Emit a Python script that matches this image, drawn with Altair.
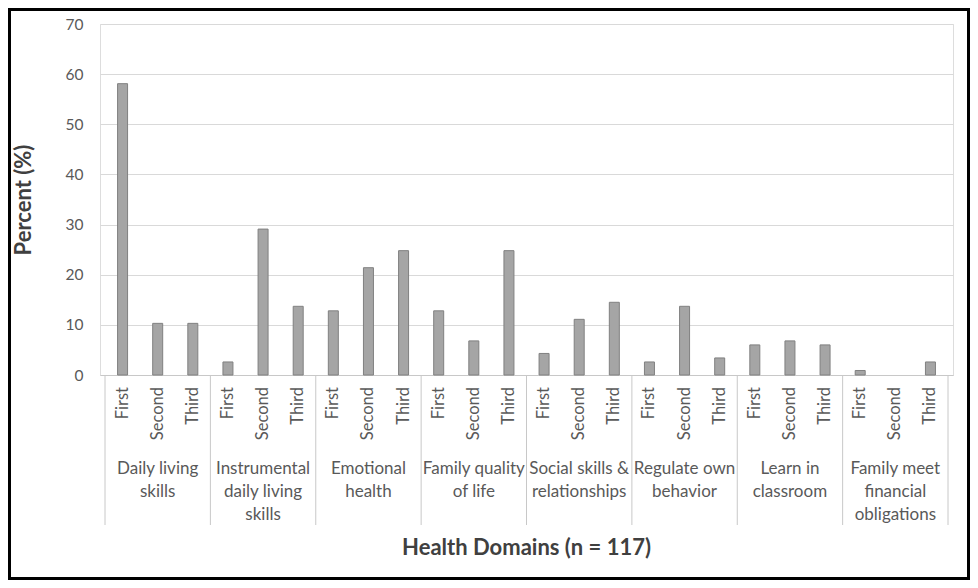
import altair as alt
import pandas as pd

domains = [
    "Daily living\nskills",
    "Instrumental\ndaily living\nskills",
    "Emotional\nhealth",
    "Family quality\nof life",
    "Social skills &\nrelationships",
    "Regulate own\nbehavior",
    "Learn in\nclassroom",
    "Family meet\nfinancial\nobligations",
]
ranks = ["First", "Second", "Third"]
first = [58.1, 2.6, 12.8, 12.8, 4.3, 2.6, 6.0, 0.9]
second = [10.3, 29.1, 21.4, 6.8, 11.1, 13.7, 6.8, 0.0]
third = [10.3, 13.7, 24.8, 24.8, 14.5, 3.4, 6.0, 2.6]
y_ticks = [0, 10, 20, 30, 40, 50, 60, 70]

W, H = 853, 351
FONT = "Lato"
TXT = "#595959"

rows = []
for g, d in enumerate(domains):
    for r, (rank, series) in enumerate(zip(ranks, [first, second, third])):
        rows.append({"domain": d, "rank": rank, "value": series[g], "pos": g * 3 + r + 0.5})
df = pd.DataFrame(rows)
groups = pd.DataFrame({"label": domains, "center": [g * 3 + 1.5 for g in range(len(domains))]})
seps = pd.DataFrame({"sep": [g * 3 for g in range(len(domains) + 1)]})

xs = alt.Scale(domain=[0, 24], nice=False, zero=False)
ys = alt.Scale(domain=[0, 70], nice=False)

bars = alt.Chart(df).mark_bar(width=10, fill="#a5a5a5", stroke="#808080", strokeWidth=1).encode(
    x=alt.X("pos:Q", scale=xs, axis=alt.Axis(labels=False, ticks=False, grid=False, domainColor="#c8c8c8", title=None)),
    y=alt.Y("value:Q", scale=ys, axis=alt.Axis(
        values=y_ticks, ticks=False, domain=False, gridColor="#d9d9d9", gridWidth=1.2,
        labelFont=FONT, labelFontSize=15.5, labelColor=TXT, labelPadding=17,
        title="Percent (%)", titleFont=FONT, titleFontSize=22, titleFontWeight="bold",
        titleColor="#404040", titlePadding=30)),
    strokeOpacity=alt.condition("datum.value > 0", alt.value(1), alt.value(0)),
)

rank_text = alt.Chart(df).mark_text(angle=270, align="right", baseline="middle", font=FONT,
                                    fontSize=16.5, color=TXT).encode(
    x=alt.X("pos:Q", scale=xs), y=alt.value(H + 12), text="rank:N")

group_text = alt.Chart(groups).mark_text(align="center", baseline="top", font=FONT, fontSize=17,
                                         color=TXT, lineBreak="\n", lineHeight=23).encode(
    x=alt.X("center:Q", scale=xs), y=alt.value(H + 86), text="label:N")

sep_rules = alt.Chart(seps).mark_rule(color="#c8c8c8", strokeWidth=1).encode(
    x=alt.X("sep:Q", scale=xs), y=alt.value(H), y2=alt.value(H + 150))

x_title = alt.Chart(pd.DataFrame({"t": ["Health Domains (n = 117)"]})).mark_text(
    align="center", baseline="middle", font=FONT, fontSize=22, fontWeight="bold", color="#404040").encode(
    x=alt.value(W / 2), y=alt.value(H + 173), text="t:N")

frame = alt.Chart(pd.DataFrame({"a": [0]})).mark_rect(fill="transparent", stroke="black", strokeWidth=3).encode(
    x=alt.value(-90.5), x2=alt.value(W + 15.5), y=alt.value(-14.5), y2=alt.value(H + 203.5))

chart = alt.layer(bars, sep_rules, rank_text, group_text, x_title, frame).properties(
    width=W, height=H,
    autosize=alt.AutoSizeParams(type="none"),
    padding={"left": 92, "top": 16, "right": 17, "bottom": 205},
).configure_view(stroke=None).configure(background="white")

chart.save("out.html", embed_options={"renderer": "svg", "actions": False})
